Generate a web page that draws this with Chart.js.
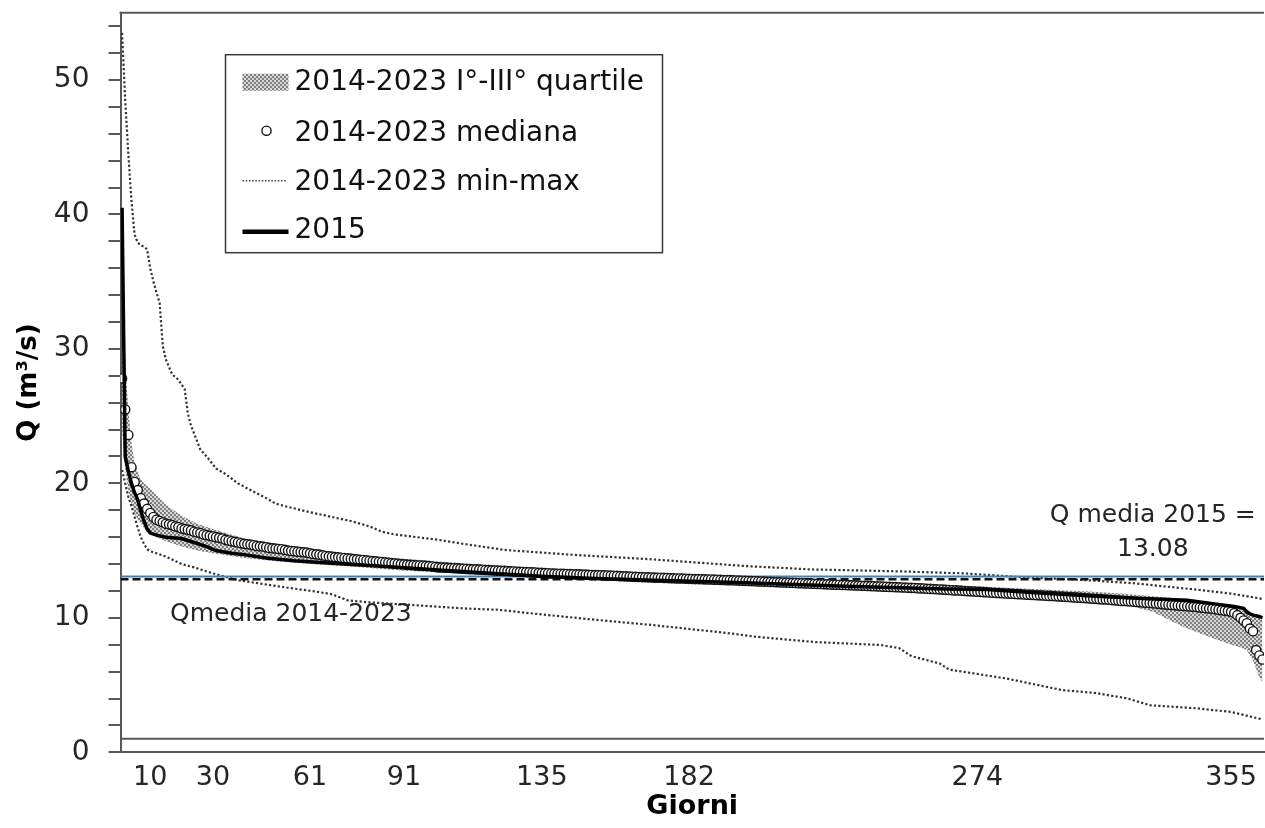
<!DOCTYPE html>
<html>
<head>
<meta charset="utf-8">
<title>Curva di durata delle portate</title>
<script src="https://cdn.jsdelivr.net/npm/chart.js@4.4.1/dist/chart.umd.min.js"></script>
<style>
  html, body { margin: 0; padding: 0; background: #fff; overflow: hidden; }
  #wrap { width: 1270px; height: 828px; }
</style>
</head>
<body>
<div id="wrap"><canvas id="c" width="1270" height="828"></canvas></div>
<script>
// ---- data ----------------------------------------------------------------
const xTickDays = [10, 30, 61, 91, 135, 182, 274, 355];

const qMean2015 = 13.08;        // Q media 2015
const qMeanPeriod = 12.87;      // Qmedia 2014-2023
const axisCrossQ = 1;           // horizontal axis crosses at Q = 1

// 2015 flow duration curve
const days2015 = [1, 2, 3, 4, 5, 6, 7, 8, 9, 10, 12, 15, 20, 24, 28, 31, 36, 40, 47, 56, 68, 80, 90,
  102, 120, 135, 150, 171, 200, 232, 264, 277, 290, 309, 325, 341, 351, 356, 359, 360, 361, 362, 364, 365];
const q2015 = [40.5, 22.0, 20.9, 20.0, 19.3, 18.8, 17.9, 17.2, 16.6, 16.3, 16.15, 16.0, 15.9, 15.6, 15.3, 15.0, 14.8, 14.7, 14.45, 14.25, 14.05, 13.9, 13.75,
  13.55, 13.3, 13.1, 12.95, 12.8, 12.6, 12.35, 12.15, 12.1, 11.9, 11.65, 11.45, 11.3, 11.0, 10.85, 10.7, 10.45, 10.3, 10.2, 10.1, 10.0];

// 2014-2023 daily median, day 1 to day 365 (ten days per row)
const medianQ = [
  27.8, 25.5, 23.6, 21.2, 20.1, 19.5, 18.9, 18.5, 18.1, 17.8,
  17.5, 17.3, 17.2, 17.1, 17.0, 16.95, 16.9, 16.8, 16.75, 16.65,
  16.6, 16.55, 16.5, 16.4, 16.35, 16.3, 16.2, 16.15, 16.1, 16.05,
  16.0, 15.95, 15.9, 15.8, 15.75, 15.7, 15.65, 15.6, 15.55, 15.5,
  15.47, 15.45, 15.4, 15.35, 15.32, 15.3, 15.25, 15.2, 15.17, 15.15,
  15.12, 15.1, 15.05, 15.0, 14.97, 14.95, 14.92, 14.9, 14.87, 14.85,
  14.8, 14.75, 14.72, 14.7, 14.65, 14.6, 14.57, 14.55, 14.52, 14.5,
  14.47, 14.45, 14.42, 14.4, 14.37, 14.35, 14.32, 14.3, 14.27, 14.25,
  14.22, 14.2, 14.17, 14.15, 14.12, 14.1, 14.07, 14.05, 14.02, 14.0,
  13.98, 13.96, 13.94, 13.92, 13.9, 13.89, 13.88, 13.86, 13.85, 13.82,
  13.78, 13.75, 13.74, 13.73, 13.72, 13.7, 13.69, 13.68, 13.66, 13.65,
  13.63, 13.62, 13.61, 13.6, 13.59, 13.58, 13.56, 13.55, 13.53, 13.52,
  13.51, 13.5, 13.49, 13.48, 13.46, 13.45, 13.43, 13.42, 13.41, 13.4,
  13.39, 13.38, 13.37, 13.35, 13.34, 13.33, 13.32, 13.3, 13.29, 13.28,
  13.28, 13.27, 13.26, 13.25, 13.24, 13.23, 13.23, 13.22, 13.21, 13.2,
  13.19, 13.18, 13.18, 13.17, 13.16, 13.15, 13.14, 13.13, 13.12, 13.1,
  13.09, 13.08, 13.07, 13.06, 13.05, 13.04, 13.03, 13.02, 13.01, 13.0,
  12.99, 12.98, 12.98, 12.97, 12.96, 12.95, 12.94, 12.93, 12.93, 12.92,
  12.91, 12.9, 12.89, 12.88, 12.88, 12.87, 12.86, 12.85, 12.85, 12.84,
  12.83, 12.82, 12.81, 12.8, 12.8, 12.79, 12.78, 12.77, 12.76, 12.75,
  12.74, 12.73, 12.72, 12.71, 12.7, 12.69, 12.68, 12.67, 12.66, 12.65,
  12.64, 12.63, 12.62, 12.61, 12.6, 12.59, 12.58, 12.57, 12.56, 12.55,
  12.54, 12.53, 12.52, 12.51, 12.5, 12.49, 12.48, 12.47, 12.46, 12.46,
  12.45, 12.44, 12.43, 12.42, 12.41, 12.4, 12.39, 12.38, 12.37, 12.36,
  12.35, 12.34, 12.33, 12.32, 12.31, 12.3, 12.29, 12.28, 12.27, 12.26,
  12.25, 12.24, 12.23, 12.22, 12.2, 12.19, 12.18, 12.16, 12.15, 12.14,
  12.12, 12.11, 12.1, 12.08, 12.07, 12.05, 12.04, 12.03, 12.01, 12.0,
  11.98, 11.97, 11.96, 11.94, 11.93, 11.91, 11.9, 11.88, 11.87, 11.85,
  11.84, 11.83, 11.81, 11.8, 11.79, 11.77, 11.76, 11.75, 11.73, 11.72,
  11.71, 11.7, 11.68, 11.67, 11.66, 11.64, 11.63, 11.62, 11.6, 11.59,
  11.58, 11.56, 11.55, 11.53, 11.52, 11.5, 11.49, 11.47, 11.46, 11.44,
  11.42, 11.41, 11.39, 11.37, 11.36, 11.34, 11.32, 11.3, 11.28, 11.26,
  11.25, 11.23, 11.21, 11.2, 11.18, 11.16, 11.14, 11.12, 11.1, 11.08,
  11.06, 11.04, 11.02, 11.0, 10.98, 10.96, 10.94, 10.92, 10.9, 10.88,
  10.86, 10.84, 10.82, 10.8, 10.77, 10.75, 10.72, 10.7, 10.67, 10.64,
  10.6, 10.57, 10.53, 10.5, 10.45, 10.35, 10.2, 10.0, 9.8, 9.6,
  9.2, 9.0, 7.6, 7.2, 6.9
];

// 2014-2023 first and third quartile
const bandDays = [1, 2, 3, 4, 5, 6, 7, 8, 10, 12, 15, 20, 25, 30, 40, 50, 61, 75, 91, 110, 135, 160, 182,
  210, 240, 274, 300, 310, 320, 330, 340, 350, 355, 358, 360, 362, 364, 365];
const q3 = [36.0, 29.0, 25.5, 23.0, 21.5, 20.8, 20.3, 20.0, 19.6, 19.1, 18.4, 17.6, 17.0, 16.6, 15.9, 15.5, 15.1, 14.7, 14.4, 14.05, 13.7, 13.45, 13.25,
  13.0, 12.7, 12.35, 12.05, 11.95, 11.8, 11.6, 11.4, 11.05, 10.85, 10.6, 10.4, 10.2, 10.0, 9.8];
const q1 = [24.0, 21.0, 19.5, 18.5, 17.8, 17.3, 17.0, 16.7, 16.3, 16.0, 15.7, 15.3, 15.0, 14.8, 14.45, 14.2, 14.0, 13.8, 13.5, 13.3, 13.0, 12.8, 12.6,
  12.35, 12.1, 11.8, 11.4, 11.3, 11.05, 10.45, 9.3, 8.4, 8.0, 7.8, 7.6, 6.8, 5.6, 5.2];

// 2014-2023 maximum
const maxDays = [1, 2, 3, 4, 5, 6, 7, 8, 9, 10, 11, 12, 13, 14, 15, 17, 19, 21, 22, 23, 24, 26, 28, 31, 34, 38, 42, 47, 50, 53,
  62, 70, 74, 80, 84, 88, 95, 102, 110, 123, 144, 170, 200, 221, 250, 270, 290, 309, 324, 345, 355, 364, 365];
const maxQ = [53.5, 48.5, 44.5, 41.0, 38.5, 37.9, 37.7, 37.6, 37.4, 36.0, 35.0, 34.2, 33.4, 30.2, 29.2, 28.1, 27.7, 27.0, 25.2, 24.3, 23.7, 22.5, 22.0, 21.1, 20.7, 20.0, 19.5, 18.9, 18.5, 18.3,
  17.8, 17.4, 17.2, 16.8, 16.4, 16.2, 16.0, 15.8, 15.5, 15.05, 14.7, 14.35, 13.85, 13.6, 13.45, 13.3, 13.0, 12.8, 12.57, 12.07, 11.8, 11.45, 11.4];

// 2014-2023 minimum
const minDays = [1, 2, 3, 4, 5, 6, 7, 8, 9, 10, 12, 15, 20, 24, 30, 38, 45, 52, 63, 68, 73, 80, 94, 110, 121, 133, 150, 170,
  195, 203, 222, 243, 249, 253, 262, 265, 283, 301, 312, 322, 329, 344, 355, 364, 365];
const minQ = [21.0, 20.0, 19.0, 18.3, 17.5, 16.7, 16.0, 15.5, 15.1, 14.95, 14.8, 14.55, 14.0, 13.75, 13.3, 12.8, 12.55, 12.3, 11.95, 11.75, 11.3, 11.15, 10.95, 10.7, 10.6, 10.3, 9.9, 9.47,
  8.85, 8.6, 8.2, 7.98, 7.75, 7.15, 6.6, 6.15, 5.5, 4.63, 4.4, 4.0, 3.5, 3.27, 3.0, 2.5, 2.45];

// ---- styling -------------------------------------------------------------
const FONT = "'DejaVu Sans', sans-serif";
const AXIS_GREY = '#595959';
const TEXT = '#262626';

const pts = (days, vals) => days.map((d, i) => ({ x: d, y: vals[i] }));
const daily = (vals) => vals.map((q, i) => ({ x: i + 1, y: q }));
const flat = (q) => [{ x: 0.5, y: q }, { x: 365.5, y: q }];

const canvas = document.getElementById('c');
const ctx = canvas.getContext('2d');

// grey checkerboard used for the quartile band
function makeHatch() {
  const tile = document.createElement('canvas');
  tile.width = 4; tile.height = 4;
  const g = tile.getContext('2d');
  g.fillStyle = '#d8d8d8'; g.fillRect(0, 0, 4, 4);
  g.fillStyle = '#808080'; g.fillRect(0, 0, 2, 2); g.fillRect(2, 2, 2, 2);
  return ctx.createPattern(tile, 'repeat');
}
const hatch = makeHatch();

// frame line on top, text notes and the boxed legend
const decorations = {
  id: 'decorations',
  afterDraw(chart) {
    const { ctx: c, chartArea: a, scales: { x, y } } = chart;
    c.save();
    c.strokeStyle = AXIS_GREY; c.lineWidth = 2;
    c.beginPath(); c.moveTo(a.left - 1, a.top); c.lineTo(a.right, a.top); c.stroke();

    c.fillStyle = TEXT;
    c.font = `25px ${FONT}`;
    c.textBaseline = 'alphabetic';
    c.textAlign = 'center';
    const yMean15 = y.getPixelForValue(qMean2015);
    c.fillText('Q media 2015 =', x.getPixelForValue(330), yMean15 - 54);
    c.fillText(qMean2015.toFixed(2), x.getPixelForValue(330), yMean15 - 20);
    c.textAlign = 'left';
    c.fillText('Qmedia 2014-2023', a.left + 49.5, y.getPixelForValue(qMeanPeriod) + 42);

    // legend
    const L = { x: a.left + 105, y: a.top + 42, w: 437, h: 198 };
    c.fillStyle = '#fff';
    c.fillRect(L.x, L.y, L.w, L.h);
    c.strokeStyle = '#3a3a3a'; c.lineWidth = 1.5;
    c.strokeRect(L.x, L.y, L.w, L.h);
    const sx = L.x + 17, ex = L.x + 63, tx = L.x + 69;
    const rows = [L.y + 28, L.y + 79, L.y + 128, L.y + 176];

    c.fillStyle = hatch;
    c.fillRect(sx, rows[0] - 9, ex - sx, 17);

    c.beginPath(); c.arc((sx + ex) / 2 + 1, rows[1] - 3, 4.6, 0, Math.PI * 2);
    c.fillStyle = '#fff'; c.fill();
    c.strokeStyle = '#111'; c.lineWidth = 1.4; c.stroke();

    c.save();
    c.setLineDash([1.6, 1.6]); c.strokeStyle = '#444'; c.lineWidth = 1.6;
    c.beginPath(); c.moveTo(sx, rows[2] - 2); c.lineTo(ex - 2, rows[2] - 2); c.stroke();
    c.restore();

    c.strokeStyle = '#000'; c.lineWidth = 4.5;
    c.beginPath(); c.moveTo(sx, rows[3] + 1); c.lineTo(ex, rows[3] + 1); c.stroke();

    c.fillStyle = '#111';
    c.font = `28px ${FONT}`;
    c.textBaseline = 'middle';
    c.textAlign = 'left';
    const labels = ['2014-2023 I°-III° quartile', '2014-2023 mediana', '2014-2023 min-max', '2015'];
    labels.forEach((t, i) => c.fillText(t, tx, rows[i]));
    c.restore();
  }
};

new Chart(canvas, {
  type: 'line',
  data: {
    datasets: [
      { label: '2015', data: pts(days2015, q2015), borderColor: '#000', borderWidth: 3.5,
        pointRadius: 0, tension: 0, order: 0 },
      { label: '2014-2023 mediana', data: daily(medianQ), showLine: false,
        pointRadius: 4.6, pointBackgroundColor: '#fff', pointBorderColor: '#151515', pointBorderWidth: 1.4, order: 1 },
      { label: 'Q media 2015', data: flat(qMean2015), borderColor: '#4a7ebb', borderWidth: 2,
        pointRadius: 0, order: 2 },
      { label: 'Qmedia 2014-2023', data: flat(qMeanPeriod), borderColor: '#111', borderWidth: 2.5,
        borderDash: [8, 4], pointRadius: 0, order: 2 },
      { label: '2014-2023 max', data: pts(maxDays, maxQ), borderColor: '#333', borderWidth: 2.2,
        borderDash: [2.2, 2.2], pointRadius: 0, order: 3 },
      { label: '2014-2023 min', data: pts(minDays, minQ), borderColor: '#333', borderWidth: 2.2,
        borderDash: [2.2, 2.2], pointRadius: 0, order: 3 },
      { label: 'asse', data: flat(axisCrossQ), borderColor: AXIS_GREY, borderWidth: 2,
        pointRadius: 0, order: 4 },
      { label: '2014-2023 III quartile', data: pts(bandDays, q3), borderColor: 'rgba(0,0,0,0)', borderWidth: 0,
        pointRadius: 0, fill: '+1', backgroundColor: hatch, order: 5 },
      { label: '2014-2023 I quartile', data: pts(bandDays, q1), borderColor: 'rgba(0,0,0,0)', borderWidth: 0,
        pointRadius: 0, fill: false, order: 6 }
    ]
  },
  options: {
    responsive: false,
    animation: false,
    devicePixelRatio: 1,
    layout: { padding: { top: 12.7, right: 1.5, left: 0, bottom: 0 } },
    plugins: { legend: { display: false }, tooltip: { enabled: false } },
    scales: {
      x: {
        type: 'linear', min: 0.5, max: 365.5,
        afterBuildTicks: (s) => { s.ticks = xTickDays.map(v => ({ value: v })); },
        ticks: { autoSkip: false, maxRotation: 0, callback: v => String(v),
                 font: { family: FONT, size: 27 }, color: TEXT, padding: 9 },
        grid: { display: false, drawTicks: false },
        border: { display: true, color: AXIS_GREY, width: 2 },
        title: { display: true, text: 'Giorni', color: '#000',
                 font: { family: FONT, size: 27, weight: 'bold' }, padding: { top: 0, bottom: 5 } },
        afterFit: (s) => { s.height = 75.7; s.paddingLeft = 0; s.paddingRight = 0; }
      },
      y: {
        min: 0, max: 55,
        ticks: { stepSize: 2, includeBounds: false, autoSkip: false,
                 callback: v => (v % 10 === 0 ? String(v) : ''),
                 font: { family: FONT, size: 28 }, color: TEXT, padding: 19 },
        grid: { drawOnChartArea: false, drawTicks: true, tickLength: 12, color: AXIS_GREY, lineWidth: 2 },
        border: { display: true, color: AXIS_GREY, width: 2 },
        title: { display: true, text: 'Q (m³/s)', color: '#000',
                 font: { family: FONT, size: 26, weight: 'bold' }, padding: { top: 14, bottom: 0 } },
        afterFit: (s) => { s.width = 120.5; s.paddingTop = 0; s.paddingBottom = 0; }
      }
    }
  },
  plugins: [decorations]
});
</script>
</body>
</html>
